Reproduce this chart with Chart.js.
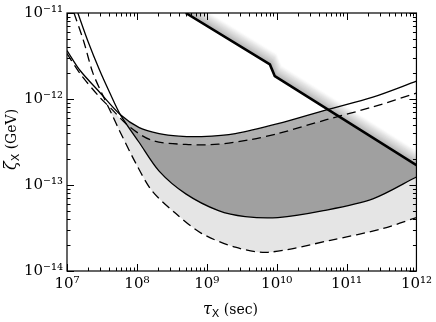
<!DOCTYPE html>
<html>
<head>
<meta charset="utf-8">
<script src="https://cdn.jsdelivr.net/npm/chart.js@4.4.0/dist/chart.umd.min.js"></script>
<style>
  html, body { margin: 0; padding: 0; background: #fff; }
  #wrap { width: 436px; height: 322px; position: relative; }
</style>
</head>
<body>
<div id="wrap"><canvas id="chart"></canvas></div>
<script>
// values: tau_X in sec, zeta_X in GeV
const edgeTau = [5.0e8, 8.0e9, 9.4e9, 1e12];
const edgeZeta = [1e-11, 2.52e-12, 1.84e-12, 1.70e-13];

const upperSolidTau = [1e7, 1.53e7, 2.93e7, 5.82e7, 1.08e8, 2.08e8, 3.99e8, 8.4e8, 2.56e9, 1.04e10, 5.14e10, 2.38e11, 1e12];
const upperSolidZeta = [3.66e-12, 2.16e-12, 1.20e-12, 6.55e-13, 4.65e-13, 3.96e-13, 3.70e-13, 3.66e-13, 3.96e-13, 5.16e-13, 7.48e-13, 1.05e-12, 1.61e-12];

const upperDashTau = [1e7, 1.53e7, 2.93e7, 4.33e7, 7.80e7, 1.65e8, 5.01e8, 1.47e9, 4.31e9, 1.04e10, 5.14e10, 2.38e11, 1e12];
const upperDashZeta = [3.38e-12, 1.99e-12, 1.05e-12, 7.67e-13, 4.77e-13, 3.30e-13, 2.96e-13, 2.98e-13, 3.38e-13, 3.96e-13, 5.74e-13, 8.09e-13, 1.17e-12];

const lowerSolidTau = [1.43e7, 1.98e7, 2.93e7, 4.06e7, 5.82e7, 1.08e8, 2.08e8, 5.01e8, 1.47e9, 3.55e9, 1.04e10, 4.67e10, 2.38e11, 1e12];
const lowerSolidZeta = [1e-11, 4.77e-12, 2.16e-12, 1.20e-12, 6.55e-13, 3.12e-13, 1.45e-13, 7.88e-14, 5.03e-14, 4.29e-14, 4.18e-14, 5.03e-14, 6.90e-14, 1.24e-13];

const lowerDashTau = [1.26e7, 1.74e7, 2.33e7, 3.24e7, 4.49e7, 5.64e7, 9.82e7, 1.65e8, 3.61e8, 8.4e8, 2.56e9, 7.5e9, 5.86e10, 3.30e11, 1e12];
const lowerDashZeta = [1e-11, 4.64e-12, 2.04e-12, 1.11e-12, 6.38e-13, 4.28e-13, 1.74e-13, 8.53e-14, 4.65e-14, 2.74e-14, 1.89e-14, 1.65e-14, 2.27e-14, 3.12e-14, 4.18e-14];

const xDecades = [7, 8, 9, 10, 11, 12];
const yDecades = [-14, -13, -12, -11];

const sup = { "0": "⁰", "1": "¹", "2": "²", "3": "³", "4": "⁴", "5": "⁵", "6": "⁶", "7": "⁷", "8": "⁸", "9": "⁹", "-": "⁻" };
const toSup = (n) => String(n).split("").map((c) => sup[c]).join("");

const tickValues = (decades) => {
  const vals = [];
  decades.forEach((d, i) => {
    if (i === decades.length - 1) { vals.push(Math.pow(10, d)); return; }
    for (let m = 1; m <= 9; m++) vals.push(m * Math.pow(10, d));
  });
  return vals;
};
const isDecade = (v) => {
  const e = Math.log10(v);
  return Math.abs(e - Math.round(e)) < 1e-9;
};
const decadeLabel = (v) => (isDecade(v) ? "10" + toSup(Math.round(Math.log10(v))) : "");

const mk = (tau, zeta) => tau.map((t, i) => ({ x: t, y: zeta[i] }));

// grey band on the upper side of the thick line
const shading = {
  id: "shading",
  beforeDatasetsDraw(chart) {
    const { ctx, chartArea: a } = chart;
    const pts = chart.getDatasetMeta(0).data;
    ctx.save();
    ctx.beginPath();
    ctx.rect(a.left, a.top, a.right - a.left, a.bottom - a.top);
    ctx.clip();
    for (let k = 12; k >= 1; k--) {
      const g = Math.round(185 + (253 - 185) * (k - 1) / 11);
      ctx.strokeStyle = `rgb(${g},${g},${g})`;
      ctx.lineWidth = 2;
      ctx.beginPath();
      pts.forEach((p, i) => {
        const x = p.x + 0.52 * k, y = p.y - 0.85 * k;
        if (i) ctx.lineTo(x, y); else ctx.moveTo(x, y);
      });
      ctx.stroke();
    }
    ctx.restore();
  },
};

// inward ticks on all four sides, frame, axis titles
const frame = {
  id: "frame",
  afterDatasetsDraw(chart) {
    const { ctx, chartArea: a, scales } = chart;
    ctx.save();
    ctx.strokeStyle = "#000";
    ctx.lineWidth = 1;
    ctx.beginPath();
    scales.x.ticks.forEach((t) => {
      const px = Math.round(scales.x.getPixelForValue(t.value)) + 0.5;
      const len = isDecade(t.value) ? 7 : 3.5;
      ctx.moveTo(px, a.bottom); ctx.lineTo(px, a.bottom - len);
      ctx.moveTo(px, a.top); ctx.lineTo(px, a.top + len);
    });
    scales.y.ticks.forEach((t) => {
      const py = Math.round(scales.y.getPixelForValue(t.value)) + 0.5;
      const len = isDecade(t.value) ? 7 : 3.5;
      ctx.moveTo(a.left, py); ctx.lineTo(a.left + len, py);
      ctx.moveTo(a.right, py); ctx.lineTo(a.right - len, py);
    });
    ctx.stroke();
    ctx.lineWidth = 1.2;
    ctx.strokeRect(a.left, a.top, a.right - a.left, a.bottom - a.top);

    ctx.fillStyle = "#000";
    ctx.textBaseline = "alphabetic";
    let x = 203;
    const y = 314;
    ctx.font = 'italic 16px "DejaVu Serif"';
    ctx.fillText("τ", x, y);
    x += ctx.measureText("τ").width;
    ctx.font = '11px "DejaVu Sans"';
    ctx.fillText("X", x, y + 3);
    x += ctx.measureText("X").width;
    ctx.font = '14px "DejaVu Serif"';
    ctx.fillText(" (sec)", x, y);

    ctx.translate(16, 170);
    ctx.rotate(-Math.PI / 2);
    x = 0;
    ctx.font = 'italic 16px "DejaVu Serif"';
    ctx.fillText("ζ", x, 0);
    x += ctx.measureText("ζ").width;
    ctx.font = '11px "DejaVu Sans"';
    ctx.fillText("X", x, 3);
    x += ctx.measureText("X").width;
    ctx.font = '14px "DejaVu Serif"';
    ctx.fillText(" (GeV)", x, 0);
    ctx.restore();
  },
};

const line = { borderColor: "#000", pointRadius: 0, fill: false, tension: 0.3 };

new Chart(document.getElementById("chart"), {
  type: "line",
  data: {
    datasets: [
      { data: mk(edgeTau, edgeZeta), borderColor: "#000", borderWidth: 2.6, pointRadius: 0, tension: 0, fill: "end", backgroundColor: "#fff" },
      { ...line, data: mk(upperSolidTau, upperSolidZeta), borderWidth: 1.3 },
      { ...line, data: mk(upperDashTau, upperDashZeta), borderWidth: 1.3, borderDash: [9, 5] },
      { ...line, data: mk(lowerSolidTau, lowerSolidZeta), borderWidth: 1.3, fill: { target: 1, above: "rgba(0,0,0,0)", below: "rgba(47,47,47,0.38)" } },
      { ...line, data: mk(lowerDashTau, lowerDashZeta), borderWidth: 1.3, borderDash: [9, 5], fill: { target: 2, above: "rgba(0,0,0,0)", below: "#e5e5e5" } },
    ],
  },
  options: {
    responsive: true,
    maintainAspectRatio: false,
    animation: false,
    events: [],
    layout: { padding: { top: 10, right: 16, left: 0, bottom: 0 } },
    plugins: {
      legend: { display: false },
      tooltip: { enabled: false },
      filler: { drawTime: "beforeDatasetsDraw" },
    },
    scales: {
      x: {
        type: "logarithmic",
        min: 1e7,
        max: 1e12,
        grid: { display: false, drawTicks: false },
        border: { display: false },
        afterBuildTicks: (scale) => { scale.ticks = tickValues(xDecades).map((v) => ({ value: v })); },
        afterFit: (scale) => { scale.height = 51; },
        ticks: { autoSkip: false, maxRotation: 0, minRotation: 0, padding: 4, color: "#000", font: { family: "DejaVu Serif", size: 15 }, callback: decadeLabel },
      },
      y: {
        type: "logarithmic",
        min: 1e-14,
        max: 1e-11,
        grid: { display: false, drawTicks: false },
        border: { display: false },
        afterBuildTicks: (scale) => { scale.ticks = tickValues(yDecades).map((v) => ({ value: v })); },
        afterFit: (scale) => { scale.width = 67; },
        ticks: { autoSkip: false, padding: 4, color: "#000", font: { family: "DejaVu Serif", size: 15 }, callback: decadeLabel },
      },
    },
  },
  plugins: [shading, frame],
});
</script>
</body>
</html>
